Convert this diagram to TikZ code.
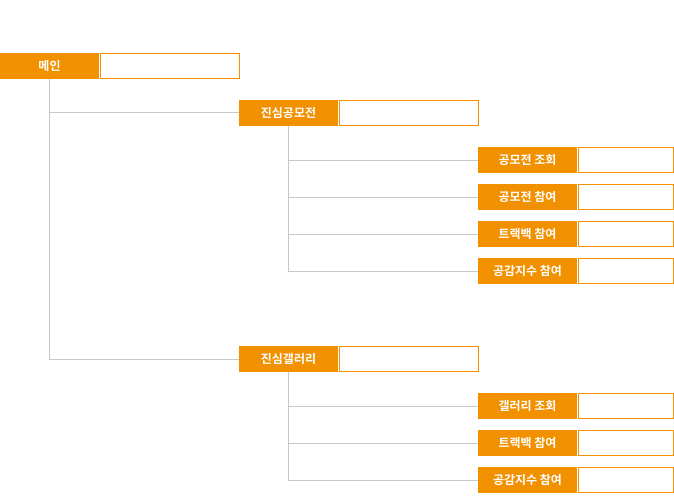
\documentclass[tikz,border=0pt]{standalone}
\usepackage{tikz}
\usetikzlibrary{positioning}
\usepackage{fontspec}
\newfontfamily\kr{Noto Sans CJK KR}[BoldFont={* Bold}]
\definecolor{tangerine}{RGB}{242, 145, 0}
\definecolor{silver}{RGB}{200, 200, 200}

\tikzset{
  lbl/.style={fill=tangerine, text=white, minimum width=99pt, minimum height=26pt,
              inner sep=0pt, font=\kr\bfseries\fontsize{12}{14}\selectfont},
  blank/.style={draw=tangerine, fill=white, minimum height=25pt, inner sep=0pt,
                line width=1pt, anchor=west},
  link/.style={draw=silver, line width=1pt}
}

\begin{document}
\begin{tikzpicture}[x=1pt, y=-1pt]
    \useasboundingbox (0,0) rectangle (674,500);
    % level 1
    \node[lbl] (main) at (49.5, 66) {메인};
    \node[blank, minimum width=139pt] (mainB) at ([xshift=0.5pt]main.east) {};
    % level 2
    \node[lbl] (contest) at (288.5, 113) {진심공모전};
    \node[blank, minimum width=139pt] (contestB) at ([xshift=0.5pt]contest.east) {};
    \node[lbl] (gallery) at (288.5, 359) {진심갤러리};
    \node[blank, minimum width=139pt] (galleryB) at ([xshift=0.5pt]gallery.east) {};
    % level 3
    \node[lbl] (cView)  at (527.5, 160) {공모전 조회};
    \node[lbl] (cJoin)  at (527.5, 197) {공모전 참여};
    \node[lbl] (cTrack) at (527.5, 234) {트랙백 참여};
    \node[lbl] (cLike)  at (527.5, 271) {공감지수 참여};
    \node[lbl] (gView)  at (527.5, 406) {갤러리 조회};
    \node[lbl] (gTrack) at (527.5, 443) {트랙백 참여};
    \node[lbl] (gLike)  at (527.5, 480) {공감지수 참여};
    \foreach \n in {cView, cJoin, cTrack, cLike, gView, gTrack, gLike}
        \node[blank, minimum width=95pt] (\n B) at ([xshift=0.5pt]\n.east) {};
    % connectors
    \draw[link] (main.south) |- (gallery.west);
    \draw[link] (main.south |- contest.west) -- (contest.west);
    \foreach \n in {cView, cJoin, cTrack, cLike}
        \draw[link] (contest.south) |- (\n.west);
    \foreach \n in {gView, gTrack, gLike}
        \draw[link] (gallery.south) |- (\n.west);
\end{tikzpicture}
\end{document}
